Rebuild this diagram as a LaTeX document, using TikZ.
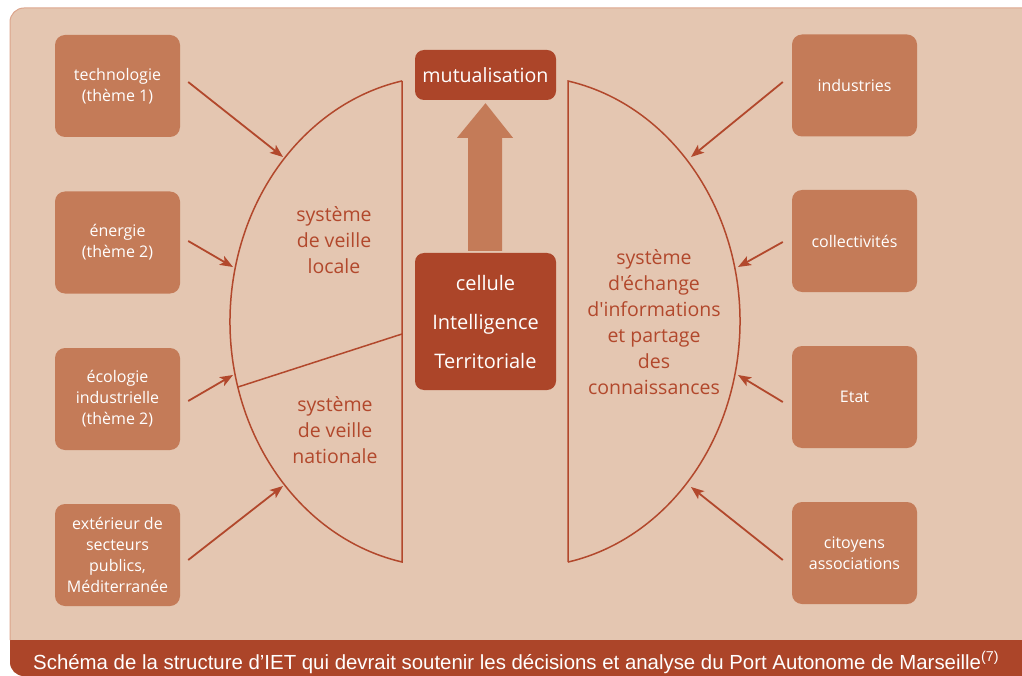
\documentclass[tikz,border=0pt]{standalone}
\usepackage{fontspec}
\usepackage{graphicx}
\newfontfamily\mf{Open Sans}
\newfontfamily\capfont{Liberation Sans}
\usetikzlibrary{arrows.meta,calc}
\definecolor{panel}{HTML}{E4C6B1}
\definecolor{panelborder}{HTML}{DCA58C}
\definecolor{lightbox}{HTML}{C47B58}
\definecolor{darkbox}{HTML}{AC4529}
\definecolor{linec}{HTML}{B2482C}
\begin{document}
\begin{tikzpicture}[x=1pt,y=-1pt,
  sbox/.style={fill=lightbox, rounded corners=10pt, minimum width=125pt, minimum height=102pt,
    text=white, align=center, inner sep=0pt, font=\mf\fontsize{16}{21}\selectfont},
  dbox/.style={fill=darkbox, rounded corners=9pt, minimum width=141pt, inner sep=0pt,
    text=white, align=center},
  half/.style={draw=linec, line width=1.5pt},
  htext/.style={text=linec, align=center, font=\mf\fontsize{19.5}{26}\selectfont},
  arr/.style={draw=linec, line width=1.8pt, -{Stealth[length=13pt,width=10pt,inset=3pt]}}
]
\useasboundingbox (0,0) rectangle (1022,676);
% panel and banner
\begin{scope}
  \clip[rounded corners=14pt] (10,8) rectangle (1045,676);
  \fill[panel] (10,8) rectangle (1045,676);
  \fill[darkbox] (10,640) rectangle (1045,676);
\end{scope}
\draw[panelborder, line width=1pt, rounded corners=14pt] (10,640) -- (10,8) -- (1045,8);
\node[anchor=base west, text=white, inner sep=0pt] (cap) at (33,669)
  {\capfont\fontsize{20.4}{22}\selectfont Schéma de la structure d’IET qui devrait soutenir les décisions et analyse du Port Autonome de Marseille\textsuperscript{(7)}};

% left boxes
\node[sbox] (t1) at (117.5,86) {technologie\\(thème 1)};
\node[sbox] (t2) at (117.5,242.5) {énergie\\(thème 2)};
\node[sbox] (t3) at (117.5,399) {écologie\\industrielle\\(thème 2)};
\node[sbox] (t4) at (117.5,555) {extérieur de\\secteurs\\publics,\\Méditerranée};
% right boxes
\node[sbox] (r1) at (854.5,85.5) {industries};
\node[sbox] (r2) at (854.5,241) {collectivités};
\node[sbox] (r3) at (854.5,397) {Etat};
\node[sbox] (r4) at (854.5,553) {citoyens\\associations};

% centre
\node[dbox, minimum height=50pt, font=\mf\fontsize{19.6}{24}\selectfont] (mut) at (485.5,75) {mutualisation};
\node[dbox, minimum height=137pt, font=\mf\fontsize{20}{39}\selectfont] (cell) at (485.5,321.5) {cellule\\Intelligence\\Territoriale};
\fill[lightbox] ($(cell.north)+(-17.5,-2)$) -- ($(cell.north)+(-17.5,-115)$) -- ($(cell.north)+(-28.5,-115)$)
  -- ($(mut.south)+(0,3)$) -- ($(cell.north)+(27.5,-115)$) -- ($(cell.north)+(16.5,-115)$)
  -- ($(cell.north)+(16.5,-2)$) -- cycle;

% left half disc
\draw[half] (402,81) -- (402,562) arc[start angle=101.54, end angle=258.46, x radius=215, y radius=245.5];
\coordinate (d1) at (238,387);
\coordinate (d2) at (402,334);
\draw[half] (d1) -- (d2);
\node[htext] (loc) at (334,240.5) {système\\de veille\\locale};
\node[htext] (nat) at (335,430) {système\\de veille\\nationale};

% right half disc
\draw[half] (568,562) -- (568,81) arc[start angle=-78.46, end angle=78.46, x radius=215, y radius=245.5];
\node[htext] (ech) at (654,322.5) {système\\d'échange\\d'informations\\et partage\\des\\connaissances};

% arrow tips on arcs
\coordinate (a1) at (283,157);
\coordinate (a2) at (233,267);
\coordinate (a3) at (233,375);
\coordinate (a4) at (283,486);
\coordinate (b1) at (691,157);
\coordinate (b2) at (738,267);
\coordinate (b3) at (738,375);
\coordinate (b4) at (691,487);

\draw[arr] ([shift={(8,-4)}]t1.east) -- (a1);
\draw[arr] ([shift={(8,-1.5)}]t2.east) -- (a2);
\draw[arr] ([shift={(8,2)}]t3.east) -- (a3);
\draw[arr] ([shift={(8,5)}]t4.east) -- (a4);
\draw[arr] ([shift={(-9,-3.5)}]r1.west) -- (b1);
\draw[arr] ([shift={(-9,1)}]r2.west) -- (b2);
\draw[arr] ([shift={(-9,5)}]r3.west) -- (b3);
\draw[arr] ([shift={(-9,7)}]r4.west) -- (b4);
\end{tikzpicture}
\end{document}
